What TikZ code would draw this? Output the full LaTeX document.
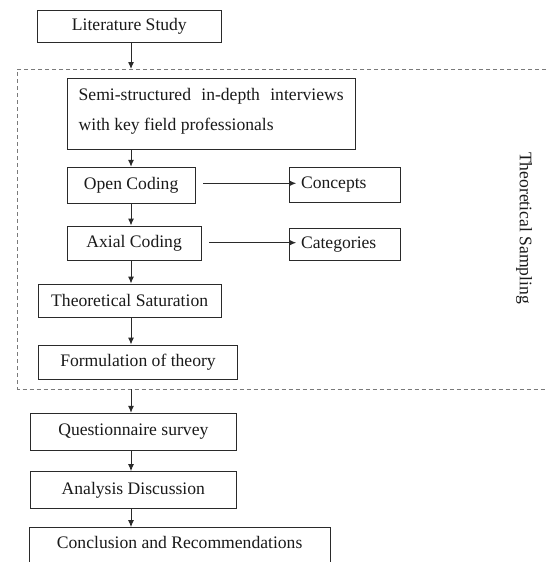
\documentclass[tikz,border=0pt]{standalone}
\usepackage{fontspec}
\setmainfont{Liberation Serif}
\usetikzlibrary{arrows.meta}
\definecolor{ink}{HTML}{1A1A1A}
\definecolor{edge}{HTML}{2A2A2A}
\definecolor{framegray}{HTML}{7A7A7A}
\begin{document}
\begin{tikzpicture}[x=1pt,y=-1pt,
  every node/.style={text=ink,font=\fontsize{17.6}{21}\selectfont},
  stepbox/.style={draw=edge,line width=1pt,inner sep=0pt,rectangle},
  arr/.style={draw=edge,line width=1pt,-{Latex[length=7pt,width=6pt]}},
  frame/.style={draw=framegray,line width=1pt,dash pattern=on 4pt off 3pt}]
\useasboundingbox (0,0) rectangle (546,562);
\fill[white] (0,0) rectangle (546,562);

\coordinate (ax) at (131,0);
\coordinate (ttop) at (131,69);
\coordinate (tbot) at (131,389);

% theoretical sampling frame
\draw[frame] (546,69) -- (17.3,69) -- (17.3,389) -- (546,389);
\node[rotate=-90] (ts) at (524,228) {Theoretical Sampling};

\node[stepbox,minimum width=183.3,minimum height=32.3] (lit) at (129.35,26.15) {Literature Study};

\node[stepbox,minimum width=287.7,minimum height=71] (semi) at (211.15,113.8)
  {\parbox{265pt}{\fontsize{17.6}{30}\selectfont\makebox[265pt][s]{Semi-structured in-depth interviews}\\with key field professionals\par\vspace{5pt}}};

\node[stepbox,minimum width=127.7,minimum height=36] (open) at (131.15,185.3) {Open Coding};
\node[stepbox,minimum width=111,minimum height=35] (conc1) at (344.5,184.8) {};
\node[anchor=west] (conctxt) at (conc1.west) {\hspace*{9pt}Concepts};

\node[stepbox,minimum width=133.7,minimum height=34] (axial) at (134.15,243) {Axial Coding};
\node[stepbox,minimum width=111,minimum height=32.4] (cat) at (344.5,244.5) {};
\node[anchor=west] (cattxt) at (cat.west) {\hspace*{9pt}Categories};

\node[stepbox,minimum width=182.7,minimum height=33.3] (sat) at (129.65,300.65) {Theoretical Saturation};
\node[stepbox,minimum width=199.4,minimum height=34.3] (form) at (138,362.15) {Formulation of theory};

\node[stepbox,minimum width=205.3,minimum height=36.7] (quest) at (133.35,431.65) {Questionnaire survey};
\node[stepbox,minimum width=205.3,minimum height=36.6] (anal) at (133.35,490) {Analysis Discussion};

\begin{scope}
\clip (0,0) rectangle (546,562);
\node[stepbox,minimum width=300.7,minimum height=50] (final) at (179.65,552.7) {Conclusion and Recommendations\rule[-21pt]{0pt}{1pt}};
\end{scope}

% connectors
\draw[arr] (lit.south -| ax) -- (ttop);
\draw[arr] (semi.south -| ax) -- (open.north -| ax);
\draw[arr] (open.south -| ax) -- (axial.north -| ax);
\draw[arr] (axial.south -| ax) -- (sat.north -| ax);
\draw[arr] (sat.south -| ax) -- (form.north -| ax);
\draw[arr] (tbot) -- (quest.north -| ax);
\draw[arr] (quest.south -| ax) -- (anal.north -| ax);
\draw[arr] (anal.south -| ax) -- (final.north -| ax);

\draw[arr] ([xshift=7.7pt,yshift=2pt]open.east) -- ([xshift=7.7pt,yshift=2pt]open.east -| conc1.west);
\draw[arr] ([xshift=7.7pt,yshift=0.3pt]axial.east) -- ([xshift=7.7pt,yshift=0.3pt]axial.east -| cat.west);
\end{tikzpicture}
\end{document}
